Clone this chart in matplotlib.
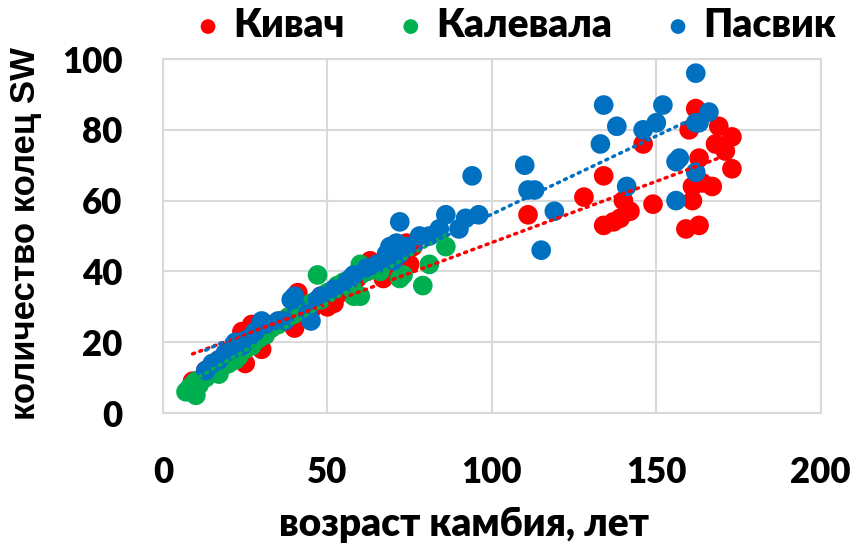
import numpy as np
import matplotlib
matplotlib.use("Agg")
import matplotlib.pyplot as plt

plt.rcParams['font.family'] = ['Lato', 'DejaVu Sans']
plt.rcParams['font.weight'] = 'heavy'

# Кивач
kivach_x = [9, 13, 15, 17, 19, 20, 22, 24, 25, 26, 27, 29, 30, 31, 33, 36, 38, 40, 41, 43,
            45, 48, 50, 52, 54, 55, 57, 59, 62, 63, 65, 67, 68, 70, 72, 74, 75, 76,
            111, 128, 134, 134, 137, 139, 140, 142, 146, 149, 159, 160, 161, 161, 162,
            163, 163, 164, 167, 168, 169, 171, 173, 173]
kivach_y = [9, 12, 13, 15, 16, 17, 19, 23, 14, 21, 25, 24, 18, 22, 25, 26, 27, 24, 34, 30,
            29, 33, 30, 31, 34, 36, 37, 38, 40, 43, 42, 38, 44, 45, 40, 48, 42, 47,
            56, 61, 67, 53, 54, 55, 60, 57, 76, 59, 52, 80, 60, 64, 86,
            53, 72, 65, 64, 76, 81, 74, 78, 69]

# Калевала
kalevala_x = [7, 8, 9, 10, 10, 11, 12, 13, 14, 16, 17, 18, 20, 22, 23, 25, 27, 29, 31, 33,
              35, 38, 40, 42, 45, 47, 48, 50, 53, 55, 58, 60, 60, 62, 64, 66, 68, 70,
              72, 73, 79, 81, 86]
kalevala_y = [6, 7, 8, 5, 9, 8, 10, 10, 11, 12, 11, 13, 14, 15, 16, 18, 19, 21, 22, 24,
              25, 27, 28, 30, 31, 39, 32, 34, 36, 37, 33, 42, 33, 40, 41, 40, 44, 46,
              38, 39, 36, 42, 47]

# Пасвик
pasvik_x = [13, 15, 17, 19, 21, 22, 24, 26, 28, 30, 31, 35, 37, 39, 40, 44, 45, 47, 48, 52,
            56, 57, 58, 62, 65, 68, 69, 70, 71, 72, 72, 74, 78, 81, 84, 86, 90, 92, 94,
            96, 110, 111, 113, 115, 119, 133, 134, 138, 141, 146, 150, 152, 156, 156,
            157, 162, 162, 162, 163, 166]
pasvik_y = [12, 14, 15, 17, 18, 20, 19, 21, 23, 26, 25, 26, 26, 32, 33, 28, 26, 32, 33, 35,
            37, 38, 39, 41, 42, 45, 47, 43, 48, 54, 45, 47, 50, 50, 52, 56, 52, 55, 67,
            56, 70, 63, 63, 46, 57, 76, 87, 81, 64, 80, 82, 87, 60, 71,
            72, 68, 82, 96, 82, 85]

series = [
    ('Кивач', kivach_x, kivach_y, '#FF0000'),
    ('Калевала', kalevala_x, kalevala_y, '#00B050'),
    ('Пасвик', pasvik_x, pasvik_y, '#0070C0'),
]

fig = plt.figure(figsize=(8.56, 5.49), dpi=100)
ax = fig.add_axes([0.1904, 0.2477, 0.7684, 0.6448])

for name, xs, ys, col in series:
    ax.scatter(xs, ys, s=200, color=col, edgecolors='none', label=name, zorder=3)

# linear trendlines over each series' range
for name, xs, ys, col in series:
    xs = np.array(xs, dtype=float)
    k, b = np.polyfit(xs, ys, 1)
    xx = np.array([xs.min(), xs.max()])
    ax.plot(xx, k * xx + b, color=col, lw=2.5, ls=(0, (0.6, 1.6)),
            dash_capstyle='round', zorder=4)

ax.set_xlim(0, 200)
ax.set_ylim(0, 100)
ax.set_xticks([0, 50, 100, 150, 200])
ax.set_yticks([0, 20, 40, 60, 80, 100])
ax.grid(True, color='#D9D9D9', lw=1.5, zorder=0)
ax.set_axisbelow(True)
for sp in ax.spines.values():
    sp.set_color('#D9D9D9')
    sp.set_linewidth(1.5)
ax.tick_params(length=0, labelsize=25)
ax.tick_params(axis='y', pad=29)
ax.tick_params(axis='x', pad=31)

fig.text(0.542, 0.044, 'возраст камбия, лет', fontsize=28, ha='center', va='center')
fig.text(0.030, 0.575, 'количество колец SW', fontsize=25, ha='center', va='center',
         rotation=90, family=['Liberation Sans', 'DejaVu Sans'], fontweight='bold')

leg = ax.legend(loc='center', bbox_to_anchor=(0.602, 0.954), bbox_transform=fig.transFigure,
                ncol=3, frameon=False, fontsize=28, markerscale=0.75,
                handlelength=0.7, handletextpad=0.3, columnspacing=1.35, borderaxespad=0)

fig.savefig('out.png', dpi=100)
